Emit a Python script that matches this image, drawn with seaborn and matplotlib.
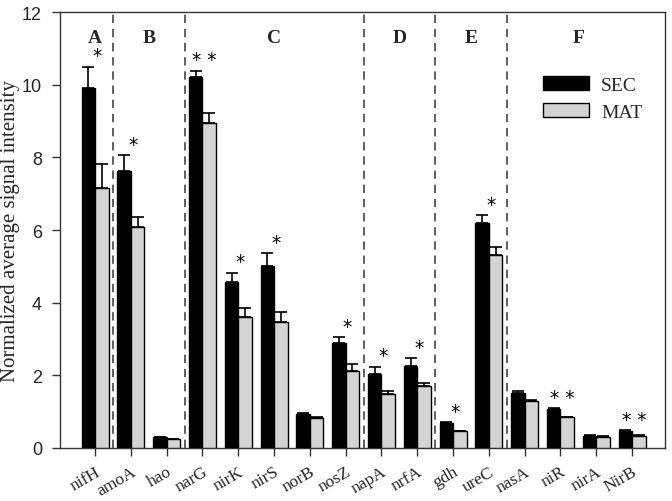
import matplotlib
matplotlib.use('Agg')
import matplotlib.pyplot as plt
import numpy as np
import pandas as pd
import seaborn as sns

# Gene list and bar values
genes = ['nifH', 'amoA', 'hao', 'narG', 'nirK', 'nirS', 'norB', 'nosZ',
         'napA', 'nrfA', 'gdh', 'ureC', 'nasA', 'niR', 'nirA', 'NirB']
sec_mean = [9.9, 7.62, 0.29, 10.2, 4.56, 5.0, 0.94, 2.89, 2.04, 2.27, 0.68, 6.18, 1.5, 1.07, 0.34, 0.46]
sec_err = [0.6, 0.44, 0.02, 0.19, 0.26, 0.37, 0.02, 0.16, 0.2, 0.2, 0.03, 0.23, 0.08, 0.03, 0.01, 0.03]
mat_mean = [7.17, 6.07, 0.25, 8.95, 3.6, 3.46, 0.82, 2.11, 1.49, 1.72, 0.46, 5.3, 1.29, 0.84, 0.31, 0.34]
mat_err = [0.65, 0.3, 0.01, 0.26, 0.25, 0.29, 0.02, 0.2, 0.07, 0.06, 0.02, 0.22, 0.02, 0.02, 0.01, 0.01]
stars = ['*', '*', '', '**', '*', '*', '', '*', '*', '*', '*', '*', '', '**', '', '**']

# Functional groups: label, first gene, last gene
group_names = ['A', 'B', 'C', 'D', 'E', 'F']
group_first = ['nifH', 'amoA', 'narG', 'napA', 'gdh', 'nasA']
group_last = ['nifH', 'hao', 'nosZ', 'nrfA', 'ureC', 'NirB']

df = pd.DataFrame({
  'gene': genes * 2,
  'site': ['SEC'] * len(genes) + ['MAT'] * len(genes),
  'value': sec_mean + mat_mean,
})

sns.set_style('white')
figure, axis = plt.subplots(figsize=(6.72, 5.02), dpi=100)
figure.subplots_adjust(left=0.0893, right=0.9896, bottom=0.1056, top=0.974)

sns.barplot(data=df, x='gene', y='value', hue='site', order=genes, hue_order=['SEC', 'MAT'],
            palette={'SEC': '#000000', 'MAT': '#d4d4d4'}, width=0.75, edgecolor='black',
            linewidth=1.0, errorbar=None, ax=axis, zorder=3)

# Upward-only error bars on top of each bar
for container, errs in zip(axis.containers, [sec_err, mat_err]):
  centers = [bar.get_x() + bar.get_width() / 2 for bar in container]
  heights = [bar.get_height() for bar in container]
  axis.errorbar(centers, heights, yerr=[np.zeros(len(errs)), errs], fmt='none',
                ecolor='black', elinewidth=1.2, capsize=4.5, capthick=1.2, zorder=4)

# Significance stars above the SEC bars
for i, mark in enumerate(stars):
  if mark:
    top = sec_mean[i] + sec_err[i]
    axis.text(i + 0.05, top + 0.3, ' '.join(mark), ha='center', va='center',
              fontsize=13.5, family='DejaVu Sans', color='black')

# Group separators and labels
pos = {g: i for i, g in enumerate(genes)}
for k, name in enumerate(group_names):
  lo, hi = pos[group_first[k]], pos[group_last[k]]
  axis.text((lo + hi) / 2, 11.3, name, ha='center', va='center', fontsize=14,
            family='Liberation Serif', fontweight='bold')
  if k > 0:
    axis.axvline(lo - 0.5, color='#444444', linestyle=(0, (5, 3.5)), linewidth=1.2, zorder=2)

axis.set_xlim(-0.98, 15.92)
axis.set_ylim(0, 12)
axis.set_yticks(range(0, 13, 2))
axis.set_yticklabels([str(v) for v in range(0, 13, 2)], family='Liberation Sans', fontsize=13)
axis.set_xticks(range(len(genes)))
axis.set_xticklabels(genes, rotation=30, ha='right', va='top', rotation_mode='anchor',
                     family='Liberation Serif', fontsize=12.5)
axis.tick_params(axis='both', direction='out', length=6, width=1, color='#333333', bottom=True, left=True)
axis.tick_params(axis='x', pad=5)
axis.tick_params(axis='y', pad=7)
axis.set_xlabel('')
axis.set_ylabel('Normalized average signal intensity', family='Liberation Serif', fontsize=15)
axis.yaxis.set_label_coords(-0.066, 0.5)

for spine in axis.spines.values():
  spine.set_color('#333333')
  spine.set_linewidth(1.0)

legend = axis.legend(loc='upper left', bbox_to_anchor=(0.798, 0.853), frameon=False,
                     prop={'family': 'Liberation Serif', 'size': 14}, handlelength=2.4,
                     handleheight=0.75, handletextpad=0.6, labelspacing=0.45,
                     borderpad=0, borderaxespad=0)

plt.savefig('out.png', dpi=100)
plt.close()
